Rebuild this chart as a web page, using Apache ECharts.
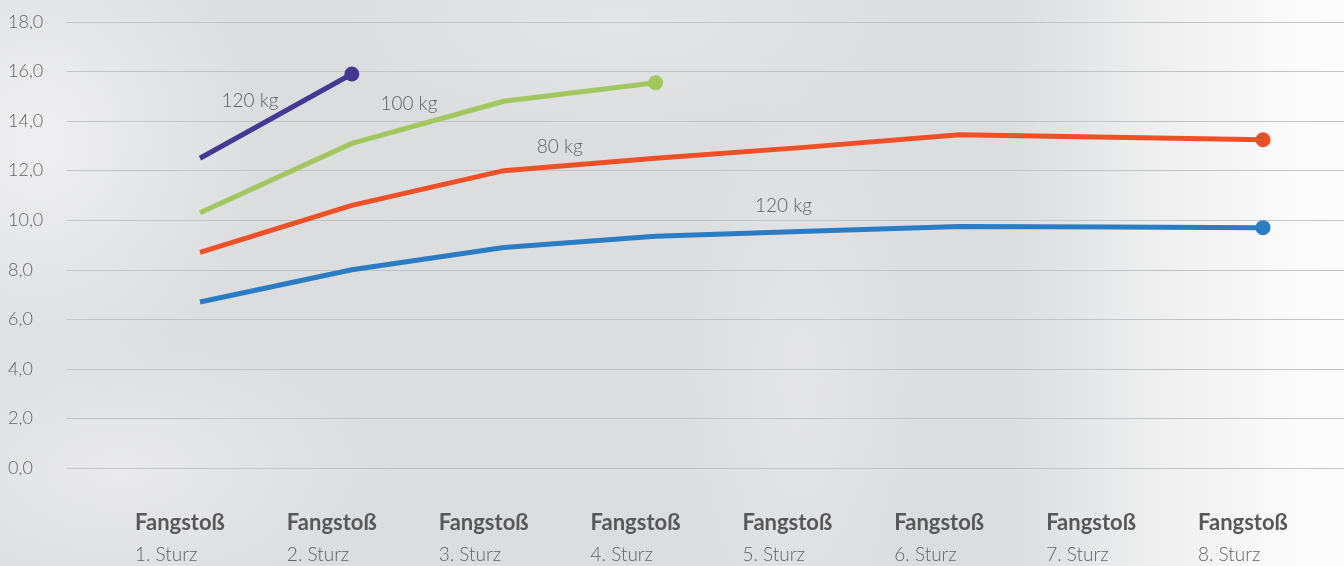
<!DOCTYPE html>
<html>
<head>
<meta charset="utf-8">
<script src="https://cdn.jsdelivr.net/npm/echarts@6/dist/echarts.min.js"></script>
<style>
  html, body { margin: 0; padding: 0; }
  body {
    width: 1344px; height: 566px; overflow: hidden;
    background:
      linear-gradient(90deg, rgba(251,251,251,0) 0px, rgba(251,251,251,0) 1010px, rgba(251,251,251,0.55) 1140px, rgba(252,252,252,0.95) 1290px, rgba(252,252,252,1) 1344px),
      radial-gradient(ellipse 220px 260px at 40px 140px, rgba(246,246,247,0.75), rgba(246,246,247,0)),
      radial-gradient(ellipse 260px 140px at 120px 470px, rgba(240,240,241,0.7), rgba(240,240,241,0)),
      radial-gradient(ellipse 120px 300px at 800px 380px, rgba(236,236,237,0.6), rgba(236,236,237,0)),
      radial-gradient(ellipse 300px 120px at 620px 20px, rgba(234,235,236,0.6), rgba(234,235,236,0)),
      #dcdddf;
  }
  #chart { width: 1344px; height: 566px; }
</style>
</head>
<body>
<div id="chart"></div>
<script>
// Fangstoß je Sturz, Werte in kN
const categories = ['1. Sturz', '2. Sturz', '3. Sturz', '4. Sturz', '5. Sturz', '6. Sturz', '7. Sturz', '8. Sturz'];
const yTicks = [0, 2, 4, 6, 8, 10, 12, 14, 16, 18];

const names = ['120 kg', '100 kg', '80 kg', '120 kg '];
const purple120 = [12.5, 15.9];
const green100 = [10.3, 13.1, 14.8, 15.55];
const orange80 = [8.7, 10.6, 12.0, 12.5, 12.95, 13.45, 13.35, 13.25];
const blue120 = [6.7, 8.0, 8.9, 9.35, 9.55, 9.75, 9.73, 9.7];

const colors = ['#433893', '#a2c75f', '#f15026', '#2a7dc4'];

const labelFont = { fontFamily: 'Lato', fontWeight: 300, fontSize: 19, color: '#626262' };

// build line data; the series name sits beside one chosen point
function buildData(values, labelIndex, offset, text) {
  return values.map((v, i) => {
    if (i !== labelIndex) return v;
    return {
      value: v,
      label: Object.assign({
        show: true,
        position: 'inside',
        align: 'center',
        verticalAlign: 'middle',
        offset: offset,
        formatter: text
      }, labelFont)
    };
  });
}

function lineSeries(name, values, color, labelIndex, offset) {
  const last = values.length - 1;
  return {
    name: name,
    type: 'line',
    xAxisIndex: 1,
    yAxisIndex: 1,
    data: buildData(values, labelIndex, offset, name.trim()),
    symbol: 'circle',
    symbolSize: (v, p) => (p.dataIndex === last ? 15 : 0),
    showSymbol: true,
    lineStyle: { color: color, width: 5, join: 'miter' },
    itemStyle: { color: color },
    emphasis: { disabled: true },
    animation: false,
    z: 3
  };
}

const chart = echarts.init(document.getElementById('chart'), null, { renderer: 'canvas' });

chart.setOption({
  backgroundColor: 'transparent',
  animation: false,
  grid: [
    { left: 67, right: 0, top: 22, bottom: 98 },
    { left: 200, right: 81, top: 22, bottom: 98 }
  ],
  xAxis: [
    { type: 'category', gridIndex: 0, data: categories, show: false },
    {
      type: 'category',
      gridIndex: 1,
      data: categories,
      boundaryGap: false,
      axisLine: { show: false },
      axisTick: { show: false },
      splitLine: { show: false },
      axisLabel: {
        interval: 0,
        margin: 39,
        align: 'center',
        padding: [0, 38, 0, 0],
        formatter: v => '{a|Fangstoß}\n{b|' + v + '}',
        rich: {
          a: { fontFamily: 'Lato', fontWeight: 'bold', fontSize: 22, color: '#585858', width: 92, align: 'left', lineHeight: 32 },
          b: { fontFamily: 'Lato', fontWeight: 300, fontSize: 19, color: '#626262', width: 92, align: 'left', lineHeight: 32 }
        }
      }
    }
  ],
  yAxis: [
    {
      type: 'value',
      gridIndex: 0,
      min: yTicks[0],
      max: yTicks[yTicks.length - 1],
      interval: yTicks[1] - yTicks[0],
      axisLine: { show: false },
      axisTick: { show: false },
      splitLine: { show: true, lineStyle: { color: '#c2c3c5', width: 1 } },
      axisLabel: {
        margin: 59,
        align: 'left',
        verticalAlign: 'middle',
        padding: [0, 0, 2, 0],
        fontFamily: 'Lato',
        fontWeight: 300,
        fontSize: 18,
        color: '#626262',
        formatter: v => v.toFixed(1).replace('.', ',')
      }
    },
    {
      type: 'value',
      gridIndex: 1,
      min: yTicks[0],
      max: yTicks[yTicks.length - 1],
      interval: yTicks[1] - yTicks[0],
      show: false,
      splitLine: { show: false }
    }
  ],
  series: [
    lineSeries(names[0], purple120, colors[0], 0, [50, -57]),
    lineSeries(names[1], green100, colors[1], 1, [57, -40]),
    lineSeries(names[2], orange80, colors[2], 2, [56, -24]),
    lineSeries(names[3], blue120, colors[3], 4, [-24, -25])
  ]
});
</script>
</body>
</html>
